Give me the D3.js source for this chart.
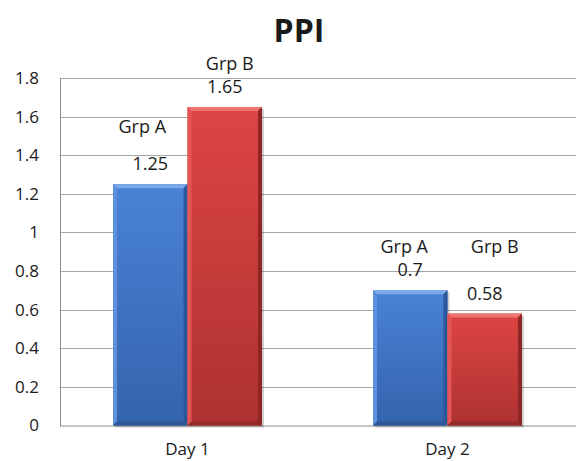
<!DOCTYPE html>
<html>
<head>
<meta charset="utf-8">
<script src="https://cdn.jsdelivr.net/npm/d3@7"></script>
<style>
  body { margin: 0; background: #fff; }
  text { font-family: "Open Sans", Lato, sans-serif; fill: #1a1a1a; }
</style>
</head>
<body>
<svg id="chart" width="576" height="461"></svg>
<script>
var categories = ['Day 1', 'Day 2'];
var groups = ['Grp A', 'Grp B'];
var grpA = [1.25, 0.7];
var grpB = [1.65, 0.58];
var yTicks = [0, 0.2, 0.4, 0.6, 0.8, 1, 1.2, 1.4, 1.6, 1.8];

// hand-placed series-name labels in the original: [dx, baseline above bar top]
var nameNudge = [
  [[-8, 51], [5, 37]],
  [[-6, 37], [10, 61]]
];

var svg = d3.select('#chart');
var margin = { top: 78, right: 0, bottom: 35, left: 60 };
var width = 576 - margin.left - margin.right;
var height = 461 - margin.top - margin.bottom - 0.5;

var x = d3.scaleBand()
  .domain(categories)
  .range([0, 515])
  .paddingInner(0.427)
  .paddingOuter(0.204);

var xGrp = d3.scaleBand()
  .domain(groups)
  .range([0, x.bandwidth()]);

var y = d3.scaleLinear().domain([0, 1.8]).range([height, 0]);

var defs = svg.append('defs');
function grad(id, c1, c2) {
  var g = defs.append('linearGradient').attr('id', id)
    .attr('x1', 0).attr('y1', 0).attr('x2', 0).attr('y2', 1);
  g.append('stop').attr('offset', '0%').attr('stop-color', c1);
  g.append('stop').attr('offset', '100%').attr('stop-color', c2);
}
grad('gA', '#4a82d6', '#3463ad');
grad('gB', '#dd4543', '#ad3231');

var root = svg.append('g').attr('transform', `translate(${margin.left},${margin.top})`);

// gridlines
root.append('g')
  .selectAll('line')
  .data(yTicks.slice(1))
  .enter()
  .append('line')
  .attr('x1', 0)
  .attr('x2', width)
  .attr('y1', d => Math.round(y(d)) + 0.5)
  .attr('y2', d => Math.round(y(d)) + 0.5)
  .attr('stroke', '#a6a6a6')
  .attr('stroke-width', 1);

// y axis
var yAxis = d3.axisLeft(y).tickValues(yTicks).tickSize(0).tickPadding(21)
  .tickFormat(d3.format('~g'));
var yg = root.append('g').call(yAxis);
yg.select('.domain').attr('stroke', '#8c8c8c');
yg.selectAll('text').style('font-size', '17px').style('font-family', '"Open Sans", sans-serif').attr('fill', '#1a1a1a');

// x axis baseline
root.append('line')
  .attr('x1', 0).attr('x2', width)
  .attr('y1', height + 0.5).attr('y2', height + 0.5)
  .attr('stroke', '#8c8c8c');

root.append('g')
  .selectAll('text')
  .data(categories)
  .enter()
  .append('text')
  .attr('x', d => x(d) + x.bandwidth() / 2)
  .attr('y', height + 29)
  .attr('text-anchor', 'middle')
  .style('font-size', '17px')
  .text(d => d);

// bars
var bars = [];
categories.forEach(function (c, i) {
  bars.push({ cat: i, grp: 0, value: grpA[i] });
  bars.push({ cat: i, grp: 1, value: grpB[i] });
});

var barG = root.append('g')
  .selectAll('g')
  .data(bars)
  .enter()
  .append('g')
  .attr('transform', d => `translate(${x(categories[d.cat]) + xGrp(groups[d.grp])},0)`);

var bw = xGrp.bandwidth();
var bev = 4;

// shadow
barG.append('rect')
  .attr('x', 2).attr('y', d => y(d.value) + 2)
  .attr('width', bw).attr('height', d => height - y(d.value))
  .attr('fill', 'rgba(0,0,0,0.18)');

barG.append('rect')
  .attr('x', 0).attr('y', d => y(d.value))
  .attr('width', bw).attr('height', d => height - y(d.value))
  .attr('fill', d => d.grp === 0 ? 'url(#gA)' : 'url(#gB)');

// bevel: lighter top, darker sides/bottom
barG.append('path')
  .attr('d', d => {
    var t = y(d.value);
    return `M0,${t}L${bw},${t}L${bw - bev},${t + bev}L${bev},${t + bev}Z`;
  })
  .attr('fill', d => d.grp === 0 ? '#7aa8ea' : '#ec7472');
barG.append('path')
  .attr('d', d => {
    var t = y(d.value);
    return `M0,${t}L${bev},${t + bev}L${bev},${height - bev}L0,${height}Z`;
  })
  .attr('fill', d => d.grp === 0 ? '#5d91dd' : '#e25755');
barG.append('path')
  .attr('d', d => {
    var t = y(d.value);
    return `M${bw},${t}L${bw - bev},${t + bev}L${bw - bev},${height - bev}L${bw},${height}Z`;
  })
  .attr('fill', d => d.grp === 0 ? '#2c569a' : '#8f2626');
barG.append('path')
  .attr('d', `M0,${height}L${bev},${height - bev}L${bw - bev},${height - bev}L${bw},${height}Z`)
  .attr('fill', d => d.grp === 0 ? '#2d5698' : '#922a2a');

// labels
var lab = root.append('g')
  .selectAll('g')
  .data(bars)
  .enter()
  .append('g');

function barCenter(d) {
  return x(categories[d.cat]) + xGrp(groups[d.grp]) + bw / 2;
}

lab.append('text')
  .attr('x', d => barCenter(d) + nameNudge[d.cat][d.grp][0])
  .attr('y', d => y(d.value) - nameNudge[d.cat][d.grp][1])
  .attr('text-anchor', 'middle')
  .style('font-size', '18px')
  .text(d => groups[d.grp]);

lab.append('text')
  .attr('x', d => barCenter(d))
  .attr('y', d => y(d.value) - 14)
  .attr('text-anchor', 'middle')
  .style('font-size', '18px')
  .text(d => d3.format('~g')(d.value));

// title
svg.append('text')
  .attr('x', 299)
  .attr('y', 42)
  .attr('text-anchor', 'middle')
  .style('font-size', '32px')
  .style('font-weight', 'bold')
  .attr('fill', '#000')
  .text('PPI');
</script>
</body>
</html>
